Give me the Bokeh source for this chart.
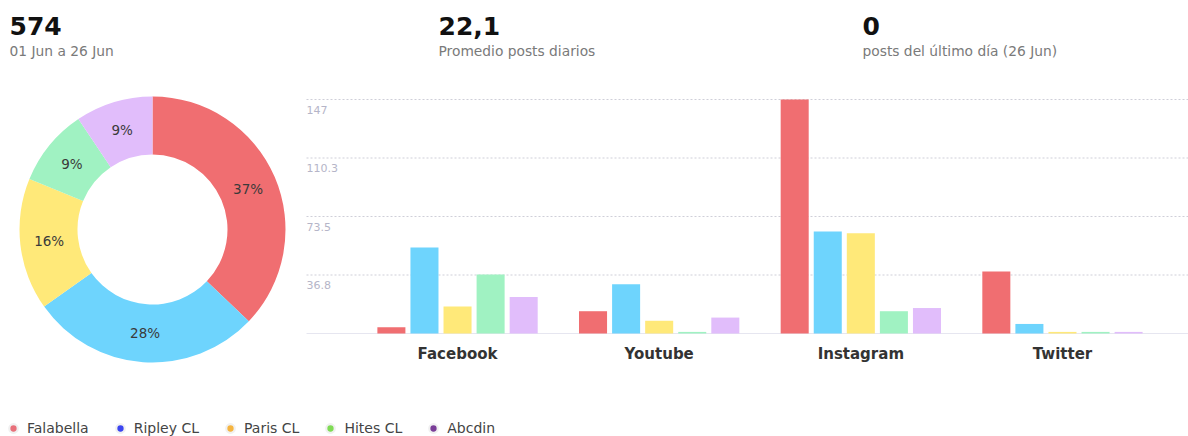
import math
from bokeh.plotting import figure
from bokeh.models import Range1d, Label, Legend, LegendItem, Span
from bokeh.layouts import column, row
from bokeh.embed import file_html
from bokeh.resources import INLINE

FONT = "DejaVu Sans"

# ---------------- data ----------------
brands = ["Falabella", "Ripley CL", "Paris CL", "Hites CL", "Abcdin"]
networks = ["Facebook", "Youtube", "Instagram", "Twitter"]
falabella = [4, 14, 147, 39]
ripley = [54, 31, 64, 6]
paris = [17, 8, 63, 1]
hites = [37, 1, 14, 1]
abcdin = [23, 10, 16, 1]
brand_totals = [213, 161, 92, 54, 54]
y_ticks = [36.75, 73.5, 110.25, 147]
y_tick_labels = ["36.8", "73.5", "110.3", "147"]
kpi_values = ["574", "22,1", "0"]
kpi_captions = ["01 Jun a 26 Jun", "Promedio posts diarios", "posts del último día (26 Jun)"]

bar_colors = ["#F06E71", "#6ED4FD", "#FFE979", "#A0F2C2", "#E1BDFB"]
legend_colors = ["#E8707A", "#3B45F0", "#F5B43F", "#7FDB55", "#7A3E98"]
series = [falabella, ripley, paris, hites, abcdin]

W = 1188
HEAD_H = 85
MID_H = 290
LEG_H = 61
PIE_W = 300
BAR_W = W - PIE_W


def blank(width, height, xr, yr):
    fig = figure(width=width, height=height, x_range=xr, y_range=yr,
                 x_axis_location=None, y_axis_location=None, toolbar_location=None,
                 output_backend="svg")
    fig.outline_line_color = None
    fig.background_fill_color = None
    fig.border_fill_color = None
    fig.min_border = 0
    fig.xgrid.visible = False
    fig.ygrid.visible = False
    return fig


# ---------------- header ----------------
head = blank(W, HEAD_H, Range1d(0, W), Range1d(HEAD_H, 0))
kpi_x = [9, 438, 862]
for xx, v, c in zip(kpi_x, kpi_values, kpi_captions):
    head.add_layout(Label(x=xx, y=25, text=v, text_font=FONT, text_font_size="25px",
                          text_font_style="bold", text_color="#111111", text_baseline="middle"))
    head.add_layout(Label(x=xx, y=50, text=c, text_font=FONT, text_font_size="13.8px",
                          text_color="#7a7a7a", text_baseline="middle"))

# ---------------- donut ----------------
pie = blank(PIE_W, MID_H, Range1d(-152, 148), Range1d(-146, 144))
total = sum(brand_totals)
cum = 0.0
starts, ends, mids, pcts = [], [], [], []
for t in brand_totals:
    a0 = math.pi / 2 - 2 * math.pi * cum / total
    cum += t
    a1 = math.pi / 2 - 2 * math.pi * cum / total
    starts.append(a0)
    ends.append(a1)
    mids.append((a0 + a1) / 2)
    pcts.append(f"{round(100 * t / total)}%")
pie.annular_wedge(x=0, y=0, inner_radius=75, outer_radius=133, start_angle=starts, end_angle=ends,
                  direction="clock", fill_color=bar_colors, line_color=None)
r_lab = 104
pie.text(x=[r_lab * math.cos(m) for m in mids], y=[r_lab * math.sin(m) for m in mids], text=pcts,
         text_font={"value": FONT}, text_font_size="13.5px", text_color="#3a3a3a",
         text_align="center", text_baseline="middle")

# ---------------- bars ----------------
px_per_unit = 234 / 147.0
x_start = -(457 - 300) / 201.6
x_end = 3 + (1188 - 1062) / 201.6
bars = blank(BAR_W, MID_H, Range1d(x_start, x_end),
             Range1d(-(375 - 333) / px_per_unit, 147 + (99 - 85) / px_per_unit))
x0 = -(457 - 306) / 201.6
bars.segment(x0=[x0] * len(y_ticks), x1=[x_end] * len(y_ticks), y0=y_ticks, y1=y_ticks,
             line_color="#cfcfd8", line_dash="2 2", line_width=1)
bars.segment(x0=[x0], x1=[x_end], y0=[0], y1=[0], line_color="#e6e6f0", line_width=1)
step, bw = 0.164, 0.139
for j, (vals, col) in enumerate(zip(series, bar_colors)):
    bars.vbar(x=[i + (j - 2) * step for i in range(len(networks))], top=vals, bottom=0,
              width=bw, fill_color=col, line_color=None)
bars.text(x=list(range(len(networks))), y=[0] * len(networks), text=networks, y_offset=20,
          text_font={"value": FONT}, text_font_size="15px", text_font_style="bold",
          text_color="#333333", text_align="center", text_baseline="middle")
for t, lab in zip(y_ticks, y_tick_labels):
    bars.add_layout(Label(x=x0, y=t, y_offset=-6, text=lab, text_font=FONT,
                          text_font_size="11px", text_color="#b5b5c8", text_baseline="top"))

# ---------------- legend ----------------
leg = blank(W, LEG_H, Range1d(0, 1), Range1d(0, 1))
items = []
for b, c in zip(brands, legend_colors):
    halo = leg.scatter(x=[-10], y=[-10], marker="circle", size=6, fill_color="#eeeeee",
                       line_color="#f1f1f1", line_width=6)
    dot = leg.scatter(x=[-10], y=[-10], marker="circle", size=6, fill_color=c, line_color=c,
                      line_width=1.5)
    items.append(LegendItem(label=b, renderers=[halo, dot]))
legend = Legend(items=items, orientation="horizontal", location=(7, 0), border_line_color=None,
                background_fill_alpha=0, padding=0, margin=0, spacing=25, glyph_width=12,
                glyph_height=12, label_standoff=8, label_text_font=FONT, label_text_font_size="14px",
                label_text_color="#444444")
leg.add_layout(legend)

layout = column(head, row(pie, bars), leg)
open("out.html", "w").write(file_html(layout, INLINE))
